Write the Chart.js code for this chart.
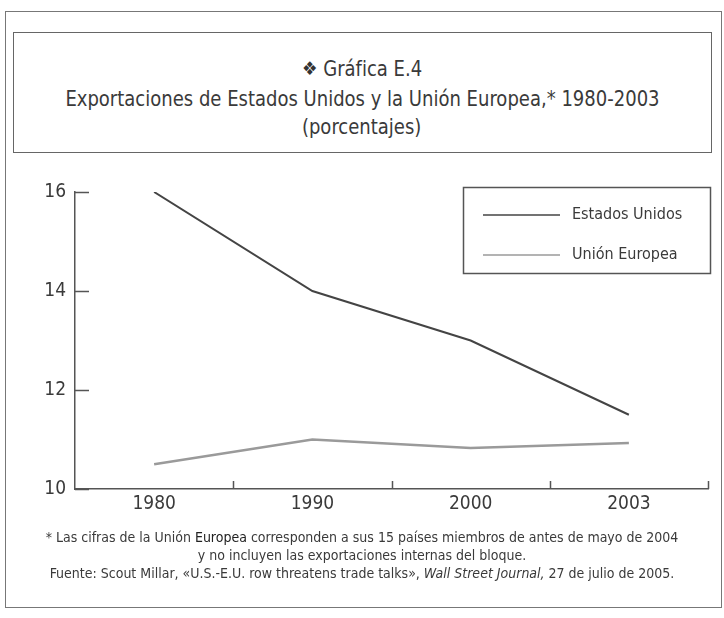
<!DOCTYPE html>
<html lang="es">
<head>
<meta charset="utf-8">
<title>Gráfica E.4</title>
<script src="https://cdn.jsdelivr.net/npm/chart.js@4/dist/chart.umd.min.js"></script>
<style>
  html, body { margin: 0; padding: 0; background: #fff; }
  body { width: 724px; height: 618px; position: relative; overflow: hidden;
         font-family: 'DejaVu Sans Condensed', 'Liberation Sans Narrow', sans-serif; color: #3a3a3a; }
  #chart { position: absolute; left: 0; top: 0; }
  .frame { position: absolute; left: 5px; top: 11px; width: 717px; height: 597px;
           border: 1.5px solid #777; box-sizing: border-box; }
  .titlebox { position: absolute; left: 13px; top: 32px; width: 699px; height: 121px;
              border: 1.5px solid #666; box-sizing: border-box; }
  .t { position: absolute; left: 0; width: 724px; text-align: center; white-space: nowrap; }
  .t span.s { display: inline-block; transform: scaleX(0.91); }
  .note { font-size: 14px; }
</style>
</head>
<body>
<div class="frame"></div>
<div class="titlebox"></div>
<div class="t" style="top:56px;font-size:22px;"><span class="s"><span style="font-family:'DejaVu Sans';font-size:19px;color:#333;position:relative;top:-1px;">❖</span> Gráfica E.4</span></div>
<div class="t" style="top:86px;font-size:22px;"><span class="s">Exportaciones de Estados Unidos y la Unión Europea,* 1980-2003</span></div>
<div class="t" style="top:114px;font-size:22px;"><span class="s">(porcentajes)</span></div>
<canvas id="chart" width="724" height="618"></canvas>
<div class="t note" style="top:529px;">* Las cifras de la Unión <span style="color:#222">Europea</span> corresponden a sus 15 países miembros de antes de mayo de 2004</div>
<div class="t note" style="top:547px;">y no incluyen las exportaciones internas del bloque.</div>
<div class="t note" style="top:565px;">Fuente: Scout Millar, «U.S.-E.U. row threatens trade talks», <i>Wall Street Journal,</i> 27 de julio de 2005.</div>
<script>
// datos
const years = ['1980', '1990', '2000', '2003'];
const estadosUnidos = [16.0, 14.0, 13.0, 11.5];
const unionEuropea = [10.5, 11.0, 10.83, 10.93];
const yTicks = [10, 12, 14, 16];

const FONT = "'DejaVu Sans Condensed', 'Liberation Sans Narrow', sans-serif";

// marcas hacia dentro en ambos ejes
const innerTicks = {
  id: 'innerTicks',
  afterDraw(chart) {
    const { ctx, chartArea } = chart;
    const x = chart.scales.x, y = chart.scales.y;
    ctx.save();
    ctx.strokeStyle = '#555';
    ctx.lineWidth = 1.5;
    ctx.beginPath();
    yTicks.forEach(v => {
      const py = Math.round(y.getPixelForValue(v)) + 0.5;
      ctx.moveTo(chartArea.left, py);
      ctx.lineTo(chartArea.left + 14, py);
    });
    for (let i = 0; i < years.length; i++) {
      const px = i < years.length - 1
        ? (x.getPixelForValue(i) + x.getPixelForValue(i + 1)) / 2
        : chartArea.right;
      ctx.moveTo(Math.round(px) + 0.5, chartArea.bottom);
      ctx.lineTo(Math.round(px) + 0.5, chartArea.bottom - 8);
    }
    ctx.stroke();
    ctx.restore();
  }
};

// leyenda en recuadro dentro del área
const boxLegend = {
  id: 'boxLegend',
  afterDraw(chart) {
    const { ctx, chartArea } = chart;
    const right = chartArea.right + 2, top = chartArea.top - 5;
    const w = 247, h = 86, left = right - w;
    ctx.save();
    ctx.strokeStyle = '#555';
    ctx.lineWidth = 1.5;
    ctx.strokeRect(left + 0.5, top + 0.5, w, h);
    ctx.font = '16px ' + FONT;
    ctx.textBaseline = 'middle';
    chart.data.datasets.forEach((ds, i) => {
      const yy = top + 28 + i * 40;
      ctx.strokeStyle = ds.borderColor;
      ctx.lineWidth = 1.5;
      ctx.beginPath();
      ctx.moveTo(left + 20, yy);
      ctx.lineTo(left + 97, yy);
      ctx.stroke();
      ctx.fillStyle = '#3a3a3a';
      ctx.fillText(ds.label, left + 109, yy);
    });
    ctx.restore();
  }
};

new Chart(document.getElementById('chart'), {
  type: 'line',
  data: {
    labels: years,
    datasets: [
      { label: 'Estados Unidos', data: estadosUnidos, borderColor: '#444', borderWidth: 2,
        pointRadius: 0, tension: 0 },
      { label: 'Unión Europea', data: unionEuropea, borderColor: '#9a9a9a', borderWidth: 2.5,
        pointRadius: 0, tension: 0 }
    ]
  },
  options: {
    responsive: false,
    animation: false,
    events: [],
    layout: { padding: { left: 0, top: 192, right: 16, bottom: 0 } },
    plugins: { legend: { display: false }, tooltip: { enabled: false } },
    scales: {
      x: {
        offset: true,
        grid: { display: false, drawTicks: false },
        border: { display: true, color: '#555', width: 1.5 },
        ticks: { color: '#3a3a3a', font: { family: FONT, size: 19 }, padding: 4 },
        afterFit(scale) { scale.height = 618 - 489; }
      },
      y: {
        min: 10, max: 16,
        grid: { display: false, drawTicks: false },
        border: { display: true, color: '#555', width: 1.5 },
        afterBuildTicks(scale) { scale.ticks = yTicks.map(v => ({ value: v })); },
        ticks: { color: '#3a3a3a', font: { family: FONT, size: 19 }, padding: 9 },
        afterFit(scale) { scale.width = 75; }
      }
    }
  },
  plugins: [innerTicks, boxLegend]
});
</script>
</body>
</html>
